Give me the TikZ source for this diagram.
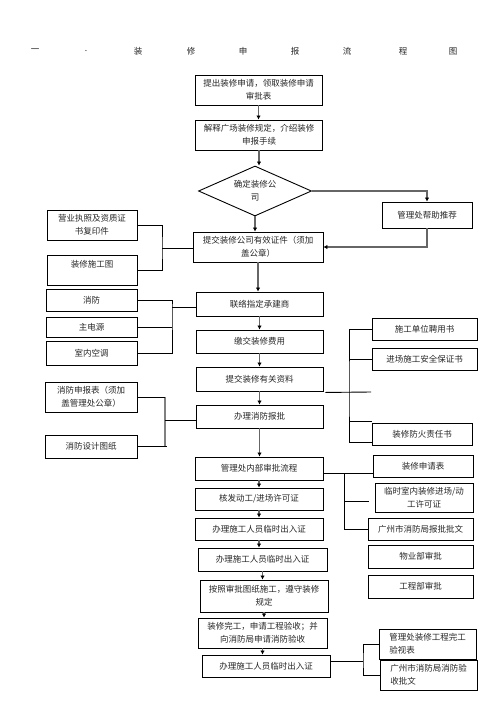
\documentclass[tikz,border=0pt]{standalone}
\usepackage{fontspec}
\newfontfamily\cjk{Noto Sans CJK SC}
\usetikzlibrary{arrows.meta,shapes.geometric}

\begin{document}
\begin{tikzpicture}[
  x=1pt, y=-1pt,
  font=\cjk\fontsize{8.5}{13}\selectfont,
  text=black!85,
  box/.style={draw, line width=0.9pt, align=center, inner sep=1pt, minimum width=127pt},
  side/.style={draw, line width=0.9pt, align=center, inner sep=1pt, minimum width=90pt},
  choice/.style={draw, diamond, aspect=2.2, line width=0.9pt, align=center, inner sep=0pt, minimum width=113pt, minimum height=50pt},
  arrow/.style={-{Latex[length=4pt,width=4.5pt,color=black]}, line width=1.4pt, draw=black!60},
  link/.style={line width=0.9pt, draw=black},
  bus/.style={line width=1.4pt, draw=black!50}
]
\useasboundingbox (0,0) rectangle (496,702);

% title
\foreach \ch/\px in {一/35, ./86, 装/138, 修/191, 申/243, 报/295, 流/347, 程/403, 图/453}
  \node (title-\px) at (\px,51) {\ch};

% main column
\node[box, minimum height=30pt] (apply) at (258.5,90) {提出装修申请，领取装修申请\\审批表};
\node[box, minimum height=30pt] (explain) at (259,135) {解释广场装修规定，介绍装修\\申报手续};
\node[choice] (pick) at (255,191) {确定装修公\\司};
\node[box, minimum width=130pt, minimum height=30pt] (cert) at (258,247) {提交装修公司有效证件（须加\\盖公章）};
\node[box, minimum height=24pt] (contact) at (259.5,304) {联络指定承建商};
\node[box, minimum height=23pt] (fee) at (259.5,341.5) {缴交装修费用};
\node[box, minimum height=24pt] (data) at (259.5,379) {提交装修有关资料};
\node[box, minimum height=23pt] (fire) at (259.5,416.5) {办理消防报批};
\node[box, minimum width=128pt, minimum height=23pt] (review) at (259,468.5) {管理处内部审批流程};
\node[box, minimum width=128pt, minimum height=22pt] (permit) at (259,499) {核发动工/进场许可证};
\node[box, minimum width=128pt, minimum height=22pt] (pass1) at (259,529) {办理施工人员临时出入证};
\node[box, minimum width=129pt, minimum height=23pt] (pass2) at (262.5,559.5) {办理施工人员临时出入证};
\node[box, minimum width=128pt, minimum height=32pt] (build) at (264,596) {按照审批图纸施工，遵守装修\\规定};
\node[box, minimum width=129pt, minimum height=30pt] (finish) at (262.5,633) {装修完工，申请工程验收；并\\向消防局申请消防验收};
\node[box, minimum width=128pt, minimum height=22pt] (pass3) at (266,666) {办理施工人员临时出入证};

\foreach \a/\b in {apply/explain, explain/pick, pick/cert, cert/contact, contact/fee, fee/data, data/fire,
    fire/review, review/permit, permit/pass1, pass1/pass2, pass2/build, build/finish, finish/pass3}
  \draw[arrow] (\a.south) -- (\a.south |- \b.north);

% recommendation loop
\node[side, minimum height=26pt] (recommend) at (427,215) {管理处帮助推荐};
\draw[arrow] (pick.east) -| (recommend.north);
\draw[arrow] (recommend.south) |- (cert.east);

% company papers
\node[side, minimum height=30pt] (licence) at (92,225) {营业执照及资质证\\书复印件};
\node[side, minimum height=30pt] (drawing) at (92,270) {装修施工图\\\mbox{}};
\coordinate (busA) at (162,248);
\draw[link] (licence.east) -| (busA) |- (drawing.east);
\draw[link] (busA) -- (busA -| cert.west);

% contractor items
\node[side, minimum width=91pt, minimum height=22pt] (firebox) at (91.5,300) {消防};
\node[side, minimum width=91pt, minimum height=20pt] (power) at (91.5,327) {主电源};
\node[side, minimum width=91pt, minimum height=24pt] (aircon) at (91.5,353) {室内空调};
\coordinate (busB) at (172,307);
\draw[link] (firebox.east) -| (busB) |- (aircon.east);
\draw[link] (power.east) -- (power.east -| busB);
\draw[link] (busB) -- (busB -| contact.west);

% fire papers
\node[side, minimum width=92pt, minimum height=30pt] (fireform) at (91,397) {消防申报表（须加\\盖管理处公章）};
\node[side, minimum width=92pt, minimum height=23pt] (firedraw) at (91,446.5) {消防设计图纸};
\coordinate (busC) at (165,420);
\draw[bus] (fireform.east -| busC) -- (firedraw.east -| busC);
\draw[link] (fireform.east) -- (fireform.east -| busC);
\draw[link] (firedraw.east) -- ([xshift=2pt]firedraw.east -| busC);
\draw[link] (busC) -- (busC -| fire.west);

% documents
\node[side, minimum width=105pt, minimum height=22pt] (hire) at (424.5,329) {施工单位聘用书};
\node[side, minimum width=105pt, minimum height=22pt] (safety) at (424.5,359) {进场施工安全保证书};
\node[side, minimum width=100pt, minimum height=22pt] (fireduty) at (422,434) {装修防火责任书};
\coordinate (busD) at (349,392);
\coordinate (gapD) at (371,392);
\coordinate (stubD) at (372,421);
\draw[link] ([shift={(2pt,-1pt)}]data.south east) -- (gapD);
\draw[link] (hire.west) -| (busD) |- ([yshift=-8pt]fireduty.west);
\draw[link] (safety.west) -- (safety.west -| busD);
\draw[link] (stubD -| busD) -- (stubD);

% approvals
\node[side, minimum width=100pt, minimum height=22pt] (form) at (423,466) {装修申请表};
\node[side, minimum width=98pt, minimum height=29pt] (tempok) at (424,497.5) {临时室内装修进场/动\\工许可证};
\node[side, minimum width=105pt, minimum height=22pt] (gzok) at (420.5,529) {广州市消防局报批批文};
\node[side, minimum width=105pt, minimum height=23pt] (estate) at (420.5,556.5) {物业部审批};
\node[side, minimum width=105pt, minimum height=23pt] (works) at (420.5,586.5) {工程部审批};
\coordinate (busE) at (344,473);
\coordinate (stubE) at (369,501);
\draw[link] ([yshift=-4.5pt]review.east) -- (busE -| form.west);
\draw[link] (busE) |- (gzok.west);
\draw[link] (stubE -| busE) -- (stubE);

% acceptance
\node[side, minimum width=97pt, minimum height=30pt, align=left] (checkok) at (427.5,644) {管理处装修工程完工\\验视表};
\node[side, minimum width=97pt, minimum height=30pt, align=left] (fireok) at (428.5,675) {广州市消防局消防验\\收批文};
\coordinate (busF) at (363,661);
\draw[link] ([yshift=5pt]pass3.east) -- (busF);
\draw[link] (checkok.west) -| (busF) |- (fireok.west);

\end{tikzpicture}
\end{document}
